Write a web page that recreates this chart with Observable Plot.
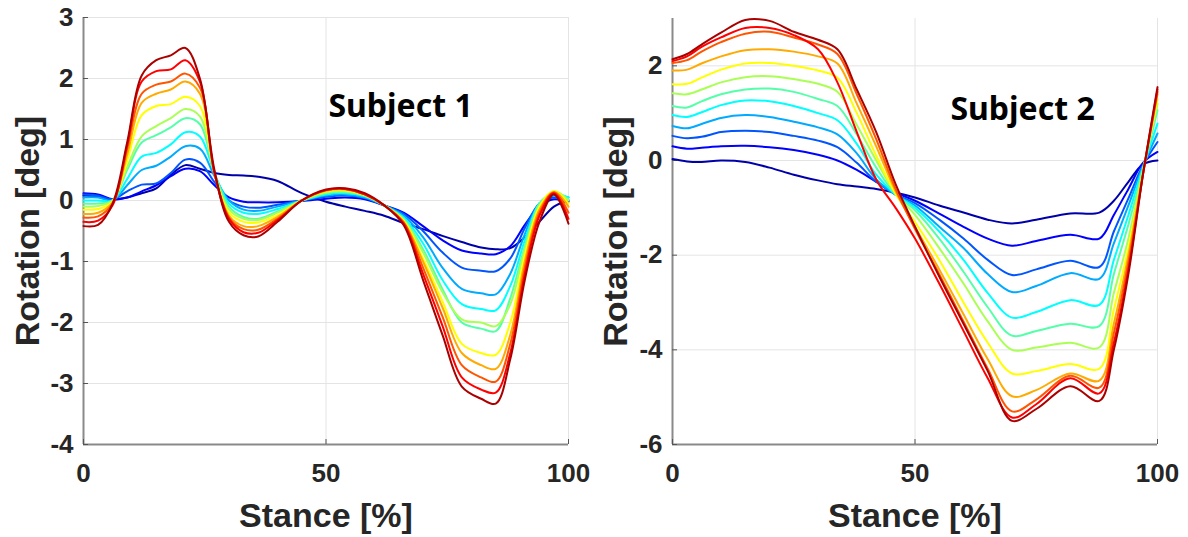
<!DOCTYPE html>
<html><head><meta charset="utf-8">
<script src="https://cdn.jsdelivr.net/npm/d3@7"></script>
<script src="https://cdn.jsdelivr.net/npm/@observablehq/plot@0.6"></script>
<style>
body{margin:0;background:#fff;}
#wrap{display:flex;width:1188px;height:537px;background:#fff;}
</style></head><body><div id="wrap"></div>
<script>
// Series (12 curves per subject, coloured with MATLAB's jet(12))
const levels = ["L1","L2","L3","L4","L5","L6","L7","L8","L9","L10","L11","L12"];
const jetColors = ["#0000aa","#0000ff","#0055ff","#00aaff","#00ffff","#55ffaa","#aaff55","#ffff00","#ffaa00","#ff5500","#ff0000","#aa0000"];

// Subject 1
const stance1 = [0,3,6,9,12,15,18,21,24,27,30,33,36,40,45,50,54,58,62,66,70,74,78,82,85,88,91,94,97,100];
const subject1 = [
  [0.08,0.06,0.02,0.05,0.12,0.2,0.42,0.58,0.52,0.45,0.42,0.41,0.39,0.32,0.12,-0.02,-0.1,-0.17,-0.25,-0.37,-0.47,-0.58,-0.68,-0.77,-0.8,-0.78,-0.6,-0.35,-0.1,0.0],
  [0.12,0.1,0.02,0.05,0.15,0.25,0.4,0.52,0.48,0.25,0.05,-0.02,-0.03,-0.03,-0.01,0.03,0.05,0.02,-0.08,-0.2,-0.42,-0.65,-0.82,-0.87,-0.88,-0.75,-0.4,-0.1,0.02,-0.02],
  [0.1,0.08,0.02,0.15,0.26,0.28,0.45,0.67,0.62,0.3,0.0,-0.1,-0.12,-0.07,0.0,0.06,0.08,0.04,-0.08,-0.22,-0.5,-0.85,-1.1,-1.15,-1.16,-0.95,-0.45,-0.05,0.05,0.0],
  [0.05,0.05,0.0,0.25,0.5,0.57,0.72,0.89,0.85,0.4,0.0,-0.15,-0.17,-0.1,0.0,0.08,0.1,0.05,-0.08,-0.25,-0.6,-1.1,-1.45,-1.52,-1.54,-1.2,-0.55,-0.05,0.08,0.05],
  [0.0,0.0,0.0,0.35,0.72,0.78,0.92,1.12,1.05,0.45,-0.05,-0.2,-0.22,-0.14,0.0,0.1,0.12,0.07,-0.08,-0.28,-0.7,-1.3,-1.7,-1.78,-1.8,-1.4,-0.65,-0.05,0.1,0.05],
  [-0.05,-0.05,0.0,0.5,0.95,1.07,1.2,1.35,1.25,0.45,-0.1,-0.27,-0.3,-0.18,0.0,0.12,0.14,0.08,-0.08,-0.3,-0.8,-1.45,-2.0,-2.1,-2.14,-1.6,-0.75,-0.05,0.12,0.02],
  [-0.1,-0.09,0.0,0.55,1.05,1.22,1.35,1.5,1.38,0.45,-0.15,-0.3,-0.32,-0.2,0.0,0.13,0.15,0.08,-0.08,-0.32,-0.85,-1.5,-1.95,-2.0,-2.06,-1.7,-0.8,-0.1,0.15,0.0],
  [-0.15,-0.14,-0.02,0.65,1.4,1.55,1.58,1.7,1.55,0.45,-0.2,-0.35,-0.36,-0.24,0.0,0.15,0.17,0.1,-0.08,-0.33,-0.95,-1.65,-2.35,-2.5,-2.53,-2.0,-0.9,-0.1,0.15,-0.05],
  [-0.22,-0.2,-0.03,0.75,1.6,1.75,1.82,1.95,1.75,0.45,-0.25,-0.42,-0.42,-0.27,0.0,0.16,0.18,0.1,-0.08,-0.35,-1.0,-1.75,-2.5,-2.7,-2.76,-2.2,-1.0,-0.15,0.14,-0.1],
  [-0.28,-0.26,-0.05,0.85,1.75,1.9,1.95,2.08,1.85,0.45,-0.28,-0.47,-0.48,-0.3,0.0,0.17,0.19,0.1,-0.08,-0.36,-1.1,-1.9,-2.7,-2.9,-2.97,-2.35,-1.1,-0.2,0.13,-0.2],
  [-0.35,-0.33,-0.08,0.9,1.95,2.12,2.15,2.3,1.95,0.45,-0.3,-0.52,-0.53,-0.32,0.0,0.17,0.19,0.1,-0.08,-0.38,-1.2,-2.05,-2.9,-3.1,-3.15,-2.5,-1.2,-0.25,0.12,-0.3],
  [-0.42,-0.4,-0.05,0.95,2.05,2.3,2.38,2.5,2.0,0.5,-0.35,-0.57,-0.59,-0.35,0.0,0.18,0.2,0.12,-0.08,-0.4,-1.3,-2.2,-3.05,-3.25,-3.33,-2.6,-1.3,-0.35,0.1,-0.38]
];

// Subject 2
const stance2 = [0,3,6,10,15,20,25,30,34,38,42,46,50,55,60,65,70,75,82,88,91,94,97,100];
const subject2 = [
  [0.03,-0.02,-0.03,0.0,-0.03,-0.15,-0.3,-0.42,-0.5,-0.55,-0.6,-0.68,-0.78,-0.95,-1.1,-1.25,-1.33,-1.25,-1.12,-1.1,-0.85,-0.45,-0.08,0.0],
  [0.30,0.25,0.27,0.3,0.31,0.28,0.22,0.12,0.0,-0.2,-0.45,-0.68,-0.85,-1.12,-1.4,-1.65,-1.8,-1.7,-1.57,-1.65,-1.15,-0.6,-0.05,0.18],
  [0.52,0.47,0.5,0.6,0.63,0.6,0.52,0.42,0.28,-0.05,-0.45,-0.72,-0.9,-1.25,-1.65,-2.1,-2.42,-2.3,-2.12,-2.25,-1.5,-0.8,-0.1,0.39],
  [0.73,0.68,0.77,0.9,0.96,0.92,0.82,0.7,0.55,0.15,-0.4,-0.72,-0.95,-1.4,-1.85,-2.4,-2.78,-2.65,-2.38,-2.5,-1.75,-0.95,-0.12,0.57],
  [0.96,0.92,1.02,1.17,1.27,1.25,1.15,1.0,0.85,0.35,-0.3,-0.72,-1.0,-1.5,-2.1,-2.8,-3.32,-3.2,-2.95,-3.05,-2.1,-1.15,-0.15,0.78],
  [1.15,1.12,1.25,1.4,1.5,1.52,1.45,1.3,1.15,0.55,-0.15,-0.72,-1.05,-1.65,-2.35,-3.1,-3.7,-3.6,-3.45,-3.5,-2.4,-1.35,-0.2,1.06],
  [1.42,1.4,1.5,1.65,1.76,1.78,1.72,1.62,1.45,0.75,0.0,-0.7,-1.15,-1.85,-2.6,-3.4,-4.0,-3.95,-3.85,-3.95,-2.8,-1.65,-0.2,1.2],
  [1.61,1.62,1.75,1.92,2.05,2.06,2.0,1.9,1.75,1.0,0.1,-0.7,-1.3,-2.1,-3.0,-3.85,-4.5,-4.45,-4.3,-4.4,-3.15,-1.85,-0.25,1.3],
  [1.9,1.92,2.05,2.2,2.33,2.35,2.3,2.2,2.05,1.2,0.3,-0.65,-1.4,-2.3,-3.25,-4.2,-4.98,-4.85,-4.5,-4.65,-3.45,-2.0,-0.25,1.4],
  [2.06,2.12,2.3,2.5,2.68,2.72,2.6,2.45,2.25,1.4,0.45,-0.6,-1.45,-2.4,-3.4,-4.4,-5.3,-5.05,-4.55,-4.8,-3.65,-2.15,-0.3,1.45],
  [2.1,2.2,2.4,2.6,2.8,2.8,2.65,2.35,1.65,0.6,-0.4,-1.0,-1.65,-2.6,-3.6,-4.6,-5.43,-5.15,-4.6,-4.92,-3.85,-2.3,-0.3,1.5],
  [2.14,2.25,2.45,2.7,2.97,2.95,2.72,2.55,2.35,1.5,0.6,-0.5,-1.4,-2.45,-3.45,-4.45,-5.5,-5.25,-4.77,-5.08,-4.0,-2.4,-0.3,1.55]
];

// Axes, ticks and labels
const xDomain = [0, 100];
const xTicks = [0, 50, 100];
const yDomain1 = [-4, 3];
const yTicks1 = [-4, -3, -2, -1, 0, 1, 2, 3];
const yDomain2 = [-6, 3];
const yTicks2 = [-6, -4, -2, 0, 2];
const xLabel = "Stance [%]";
const yLabel = "Rotation [deg]";
const subjectNames = ["Subject 1", "Subject 2"];
const subjectLabelX = [50.5, 57.3];
const subjectLabelY = [1.37, 0.85];

function panel({stance, curves, yDomain, yTicks, marginLeft, marginRight, marginTop, idx, yLabelDx}) {
  const width = 594, height = 537, marginBottom = 93;
  const frameW = width - marginLeft - marginRight;
  const frameH = height - marginTop - marginBottom;
  const data = curves.flatMap((vals, i) => vals.map((v, j) => ({stance: stance[j], value: v, level: levels[i]})));
  const note = [{x: subjectLabelX[idx], y: subjectLabelY[idx], t: subjectNames[idx]}];
  const fmt = d => String(d);
  return Plot.plot({
    width, height, marginLeft, marginRight, marginTop, marginBottom,
    x: {domain: xDomain},
    y: {domain: yDomain},
    color: {domain: levels, range: jetColors},
    style: {fontFamily: "'Liberation Sans', Arial, sans-serif", fontWeight: "bold", color: "#262626", background: "white", overflow: "visible"},
    marks: [
      Plot.gridY(yTicks, {stroke: "#e4e4e4", strokeOpacity: 1, strokeWidth: 1}),
      Plot.gridX(xTicks, {stroke: "#e4e4e4", strokeOpacity: 1, strokeWidth: 1}),
      Plot.ruleX([xDomain[0]], {stroke: "#8a8a8a", strokeWidth: 2}),
      Plot.ruleY([yDomain[0]], {stroke: "#8a8a8a", strokeWidth: 2}),
      Plot.tickX(xTicks, {x: d => d, stroke: "#555", strokeWidth: 1, insetTop: frameH - 5}),
      Plot.tickY(yTicks, {y: d => d, stroke: "#555", strokeWidth: 1, insetRight: frameW - 5}),
      Plot.axisX(xTicks, {tickSize: 0, tickPadding: 19, fontSize: 26, label: null, fill: "#262626", tickFormat: fmt}),
      Plot.axisY(yTicks, {tickSize: 0, tickPadding: 10, fontSize: 26, label: null, fill: "#262626", tickFormat: fmt}),
      Plot.line(data, {x: "stance", y: "value", z: "level", stroke: "level", strokeWidth: 2, curve: "catmull-rom"}),
      Plot.text(note, {x: "x", y: "y", text: "t", textAnchor: "start", lineAnchor: "bottom", fontSize: 32, fontFamily: "'Noto Sans', sans-serif", fontWeight: "bold", fill: "#000"}),
      Plot.text([xLabel], {text: d => d, frameAnchor: "bottom", dy: 82, textAnchor: "middle", lineAnchor: "bottom", fontSize: 34, fill: "#262626"}),
      Plot.text([yLabel], {text: d => d, frameAnchor: "left", dx: yLabelDx, rotate: -90, textAnchor: "middle", lineAnchor: "middle", fontSize: 34, fill: "#262626"})
    ]
  });
}

const wrap = document.getElementById("wrap");
wrap.append(panel({stance: stance1, curves: subject1, yDomain: yDomain1, yTicks: yTicks1, marginLeft: 83, marginRight: 26, marginTop: 17, idx: 0, yLabelDx: -55}));
wrap.append(panel({stance: stance2, curves: subject2, yDomain: yDomain2, yTicks: yTicks2, marginLeft: 78, marginRight: 31, marginTop: 18, idx: 1, yLabelDx: -56}));
</script></body></html>
